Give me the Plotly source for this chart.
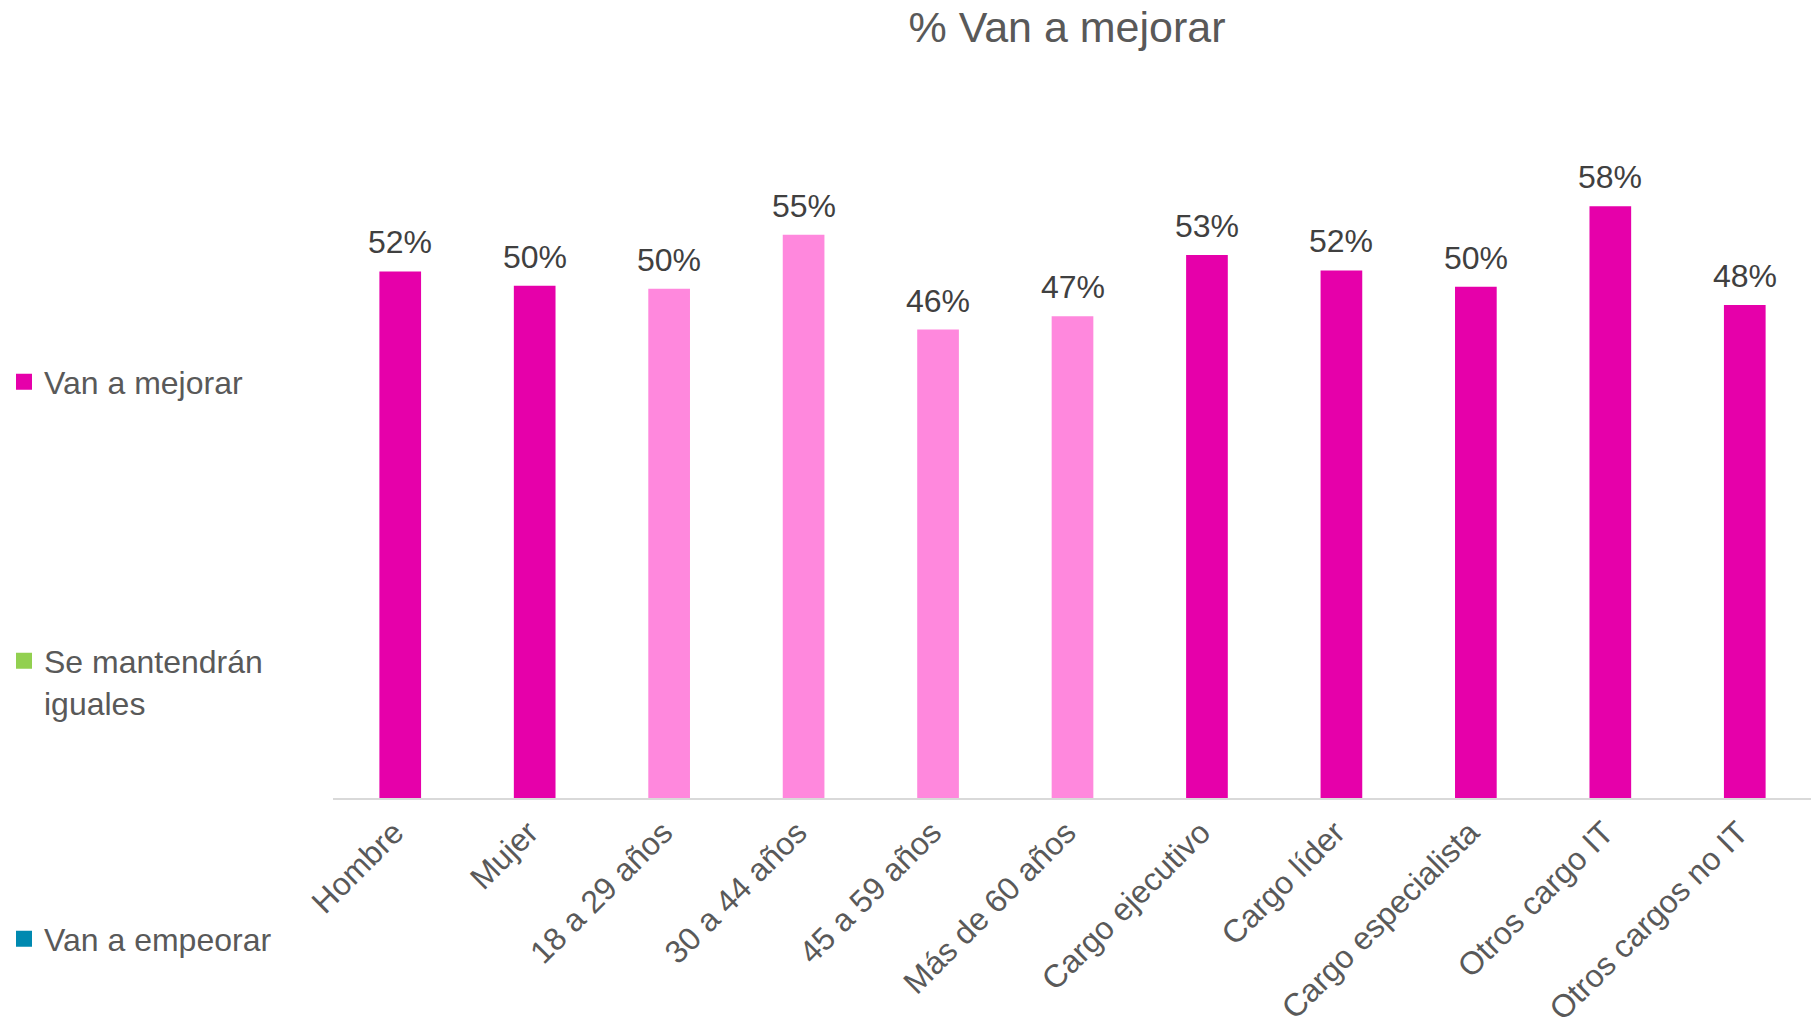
import plotly.graph_objects as go

categories = ["Hombre", "Mujer", "18 a 29 años", "30 a 44 años", "45 a 59 años",
              "Más de 60 años", "Cargo ejecutivo", "Cargo líder", "Cargo especialista",
              "Otros cargo IT", "Otros cargos no IT"]
groups = ["Género", "Género", "Edad", "Edad", "Edad", "Edad",
          "Cargo", "Cargo", "Cargo", "Cargo", "Cargo"]
van_a_mejorar = [0.516, 0.502, 0.499, 0.552, 0.459, 0.472, 0.532, 0.517, 0.501, 0.580, 0.483]

series_names = ["Van a mejorar", "Se mantendrán<br>iguales", "Van a empeorar"]
title_text = "% Van a mejorar"

# the page body adds an 8px offset, so the figure is drawn 8px smaller
W, H = 1811, 1013
FONT = "Arial, Liberation Sans, sans-serif"
group_colors = {"Género": "#E600AA", "Cargo": "#E600AA", "Edad": "#FF88DD"}
series_colors = ["#E600AA", "#92D050", "#0089B0"]

L, R, T, B = 325, 7, 92, 223
plot_w = W - L - R

fig = go.Figure()
fig.add_trace(go.Bar(
    x=categories, y=van_a_mejorar, name=series_names[0],
    marker=dict(color=[group_colors[g] for g in groups], line=dict(width=0)),
    cliponaxis=False, width=0.31, showlegend=False,
))
for cat, v in zip(categories, van_a_mejorar):
    fig.add_annotation(x=cat, y=v, text=f"{v:.0%}", showarrow=False,
                       yanchor="bottom", yshift=9,
                       font=dict(size=32, color="#404040", family=FONT))

legend_ids = ["legend", "legend2", "legend3"]
for name, col, lid in zip(series_names, series_colors, legend_ids):
    fig.add_trace(go.Scatter(
        x=[None], y=[None], mode="markers", name=name,
        marker=dict(symbol="square", size=16, color=col), legend=lid,
    ))

leg_x = (-4 - L) / plot_w
leg_common = dict(xref="paper", yref="container", x=leg_x, xanchor="left",
                  yanchor="middle", font=dict(size=32, color="#595959", family=FONT),
                  bgcolor="rgba(0,0,0,0)", valign="top", tracegroupgap=0,
                  itemsizing="trace")
fig.update_layout(
    width=W, height=H,
    paper_bgcolor="white", plot_bgcolor="white",
    margin=dict(l=L, r=R, t=T, b=B, autoexpand=False),
    title=dict(text=title_text, x=1059 / W, xref="container", xanchor="center",
               y=1 - 19 / H, yref="container", yanchor="middle",
               font=dict(size=43, color="#595959", family=FONT)),
    barmode="overlay",
    showlegend=True,
    legend=dict(**leg_common, y=1 - 374 / H),
    legend2=dict(**leg_common, y=1 - 674 / H),
    legend3=dict(**leg_common, y=1 - 931 / H),
    xaxis=dict(showline=True, linecolor="#D9D9D9", linewidth=2, ticks="",
               tickangle=-45, tickfont=dict(size=32, color="#595959", family=FONT),
               showgrid=False, automargin=False, ticklabelshift=-6,
               ticklabelstandoff=1),
    yaxis=dict(visible=False, range=[0, 0.684], showgrid=False, automargin=False),
)

fig.write_html("out.html")
